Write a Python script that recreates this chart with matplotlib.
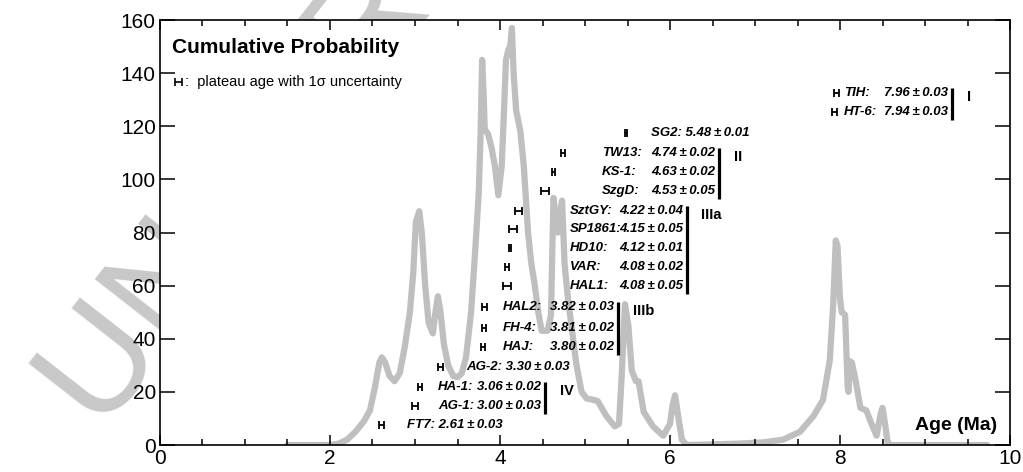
import matplotlib
matplotlib.use("Agg")
import matplotlib.pyplot as plt
from matplotlib.ticker import MultipleLocator

plt.rcParams['font.family'] = ['Liberation Sans', 'DejaVu Sans']

# cumulative probability curve
curve_age = [1.5, 2.0, 2.1, 2.2, 2.3, 2.4, 2.47, 2.53, 2.58, 2.61, 2.65, 2.7, 2.76, 2.82, 2.88,
             2.94, 2.98, 3.01, 3.03, 3.05, 3.08, 3.12, 3.16, 3.21, 3.24, 3.27, 3.3, 3.34, 3.39,
             3.45, 3.5, 3.55, 3.6, 3.66, 3.71, 3.75, 3.77, 3.79, 3.81, 3.82, 3.86, 3.9, 3.94,
             3.98, 4.02, 4.05, 4.07, 4.1, 4.12, 4.14, 4.16, 4.19, 4.24, 4.28, 4.33, 4.37, 4.41,
             4.45, 4.49, 4.56, 4.6, 4.62, 4.63, 4.66, 4.68, 4.71, 4.73, 4.76, 4.8, 4.86, 4.9,
             4.96, 5.02, 5.1, 5.15, 5.25, 5.35, 5.4, 5.43, 5.47, 5.51, 5.55, 5.6, 5.63, 5.69,
             5.8, 5.92, 6.0, 6.03, 6.06, 6.1, 6.14, 6.2, 6.8, 7.1, 7.33, 7.53, 7.69, 7.8, 7.88,
             7.92, 7.95, 7.97, 8.0, 8.02, 8.06, 8.09, 8.1, 8.12, 8.14, 8.18, 8.24, 8.31, 8.37,
             8.43, 8.48, 8.5, 8.53, 8.56, 8.6, 9.73]
curve_prob = [0, 0, 0.5, 2, 5, 9, 13, 22, 31, 33, 31, 26, 24, 27, 37,
              50, 65, 84, 86, 88, 80, 60, 46, 42, 50, 56, 50, 38, 30,
              26, 25.5, 27, 33, 50, 74, 95, 115, 145, 130, 119, 117, 112, 105,
              94, 105, 128, 145, 149, 150, 157, 140, 126, 118, 105, 80, 68, 60,
              50, 43, 43, 49, 80, 93, 84, 80, 88, 92, 68, 55, 40, 30,
              20, 17.5, 17, 16.5, 11, 7, 8, 25, 53, 45, 28, 24, 24, 12.5,
              7, 3.5, 8, 15, 18.7, 10, 2, 0, 0.5, 1, 2, 5, 11, 17, 32,
              53, 77, 75, 55, 50, 49, 22, 20, 31.5, 31, 25, 14, 13, 8,
              3.5, 12, 14, 8, 1, 0, 0]

# plateau ages
samples = ['FT7', 'AG-1', 'HA-1', 'AG-2', 'HAJ', 'FH-4', 'HAL2', 'HAL1', 'VAR', 'HD10',
           'SP1861', 'SztGY', 'SzgD', 'KS-1', 'TW13', 'SG2', 'HT-6', 'TIH']
ages = [2.61, 3.00, 3.06, 3.30, 3.80, 3.81, 3.82, 4.08, 4.08, 4.12,
        4.15, 4.22, 4.53, 4.63, 4.74, 5.48, 7.94, 7.96]
errs = [0.03, 0.03, 0.02, 0.03, 0.02, 0.02, 0.03, 0.05, 0.02, 0.01,
        0.05, 0.04, 0.05, 0.02, 0.02, 0.01, 0.03, 0.03]
groups = [None, 'IV', 'IV', None, 'IIIb', 'IIIb', 'IIIb', 'IIIa', 'IIIa', 'IIIa',
          'IIIa', 'IIIa', 'II', 'II', 'II', None, 'I', 'I']

# layout of the labels
row_y = [7.5, 14.7, 21.9, 29.3, 36.8, 44.1, 51.9, 59.8, 67.0, 74.2,
         81.2, 88.0, 95.6, 102.8, 110.0, 117.5, 125.4, 132.6]
bar_x = {'IV': 4.53, 'IIIb': 5.39, 'IIIa': 6.2, 'II': 6.58, 'I': 9.32}
name_x = {'IV': 3.27, 'IIIb': 4.03, 'IIIa': 4.82, 'II': 5.2, 'I': 8.05}

fig = plt.figure(figsize=(10.23, 4.72), dpi=100)
ax = fig.add_axes([0.1564, 0.0572, 0.8309, 0.9004])

# watermark behind the axes
fig.text(0.10, 0.08, 'UNCORRECTED PROOF', fontsize=106, color='#c8c8c8',
         rotation=52, rotation_mode='anchor', ha='left', va='baseline', zorder=-1)

ax.plot(curve_age, curve_prob, color='#bfbfbf', lw=4.5, solid_joinstyle='round',
        solid_capstyle='round', zorder=1)

ax.errorbar(ages, row_y, xerr=errs, fmt='none', ecolor='k', elinewidth=1.3,
            capsize=3, capthick=1.3, zorder=3)

lab = dict(fontsize=9.5, fontweight='bold', fontstyle='italic', va='center', zorder=4)
for name, age, err, g, y in zip(samples, ages, errs, groups, row_y):
    val = f"{age:.2f}\u2009\u00b1\u2009{err:.2f}"
    if g is None:
        ax.text(age + 0.3, y, f"{name}: {val}", ha='left', **lab)
    else:
        ax.text(name_x[g], y, f"{name}:", ha='left', **lab)
        ax.text(bar_x[g] - 0.05, y, val, ha='right', **lab)

for g, bx in bar_x.items():
    ys = [y for y, gg in zip(row_y, groups) if gg == g]
    ax.plot([bx, bx], [min(ys) - 3, max(ys) + 1.8], color='k', lw=2.3,
            solid_capstyle='butt', zorder=4)
    ax.text(bx + 0.17, max(ys) - 1.5, g, fontsize=10.5, fontweight='bold',
            ha='left', va='center')

ax.text(0.14, 149.5, 'Cumulative Probability', fontsize=15, fontweight='bold',
        ha='left', va='center')
ax.errorbar([0.22], [136.7], xerr=[0.04], fmt='none', ecolor='k', elinewidth=1.2,
            capsize=3, capthick=1.2)
ax.text(0.3, 136.7, ':  plateau age with 1\u03c3 uncertainty', fontsize=10.5,
        ha='left', va='center')
ax.text(9.85, 7.5, 'Age (Ma)', fontsize=14, fontweight='bold', ha='right', va='center')

ax.set_xlim(0, 10)
ax.set_ylim(0, 160)
ax.xaxis.set_major_locator(MultipleLocator(2))
ax.xaxis.set_minor_locator(MultipleLocator(0.5))
ax.yaxis.set_major_locator(MultipleLocator(20))
ax.tick_params(which='both', direction='in', top=True, right=True, labelsize=15, pad=3)
ax.tick_params(axis='x', which='major', length=7, width=1.1)
ax.tick_params(axis='x', which='minor', length=4, width=1.1)
ax.tick_params(axis='y', which='major', length=11, width=1.1)
for s in ax.spines.values():
    s.set_linewidth(1.2)

fig.savefig('out.png', dpi=100)
